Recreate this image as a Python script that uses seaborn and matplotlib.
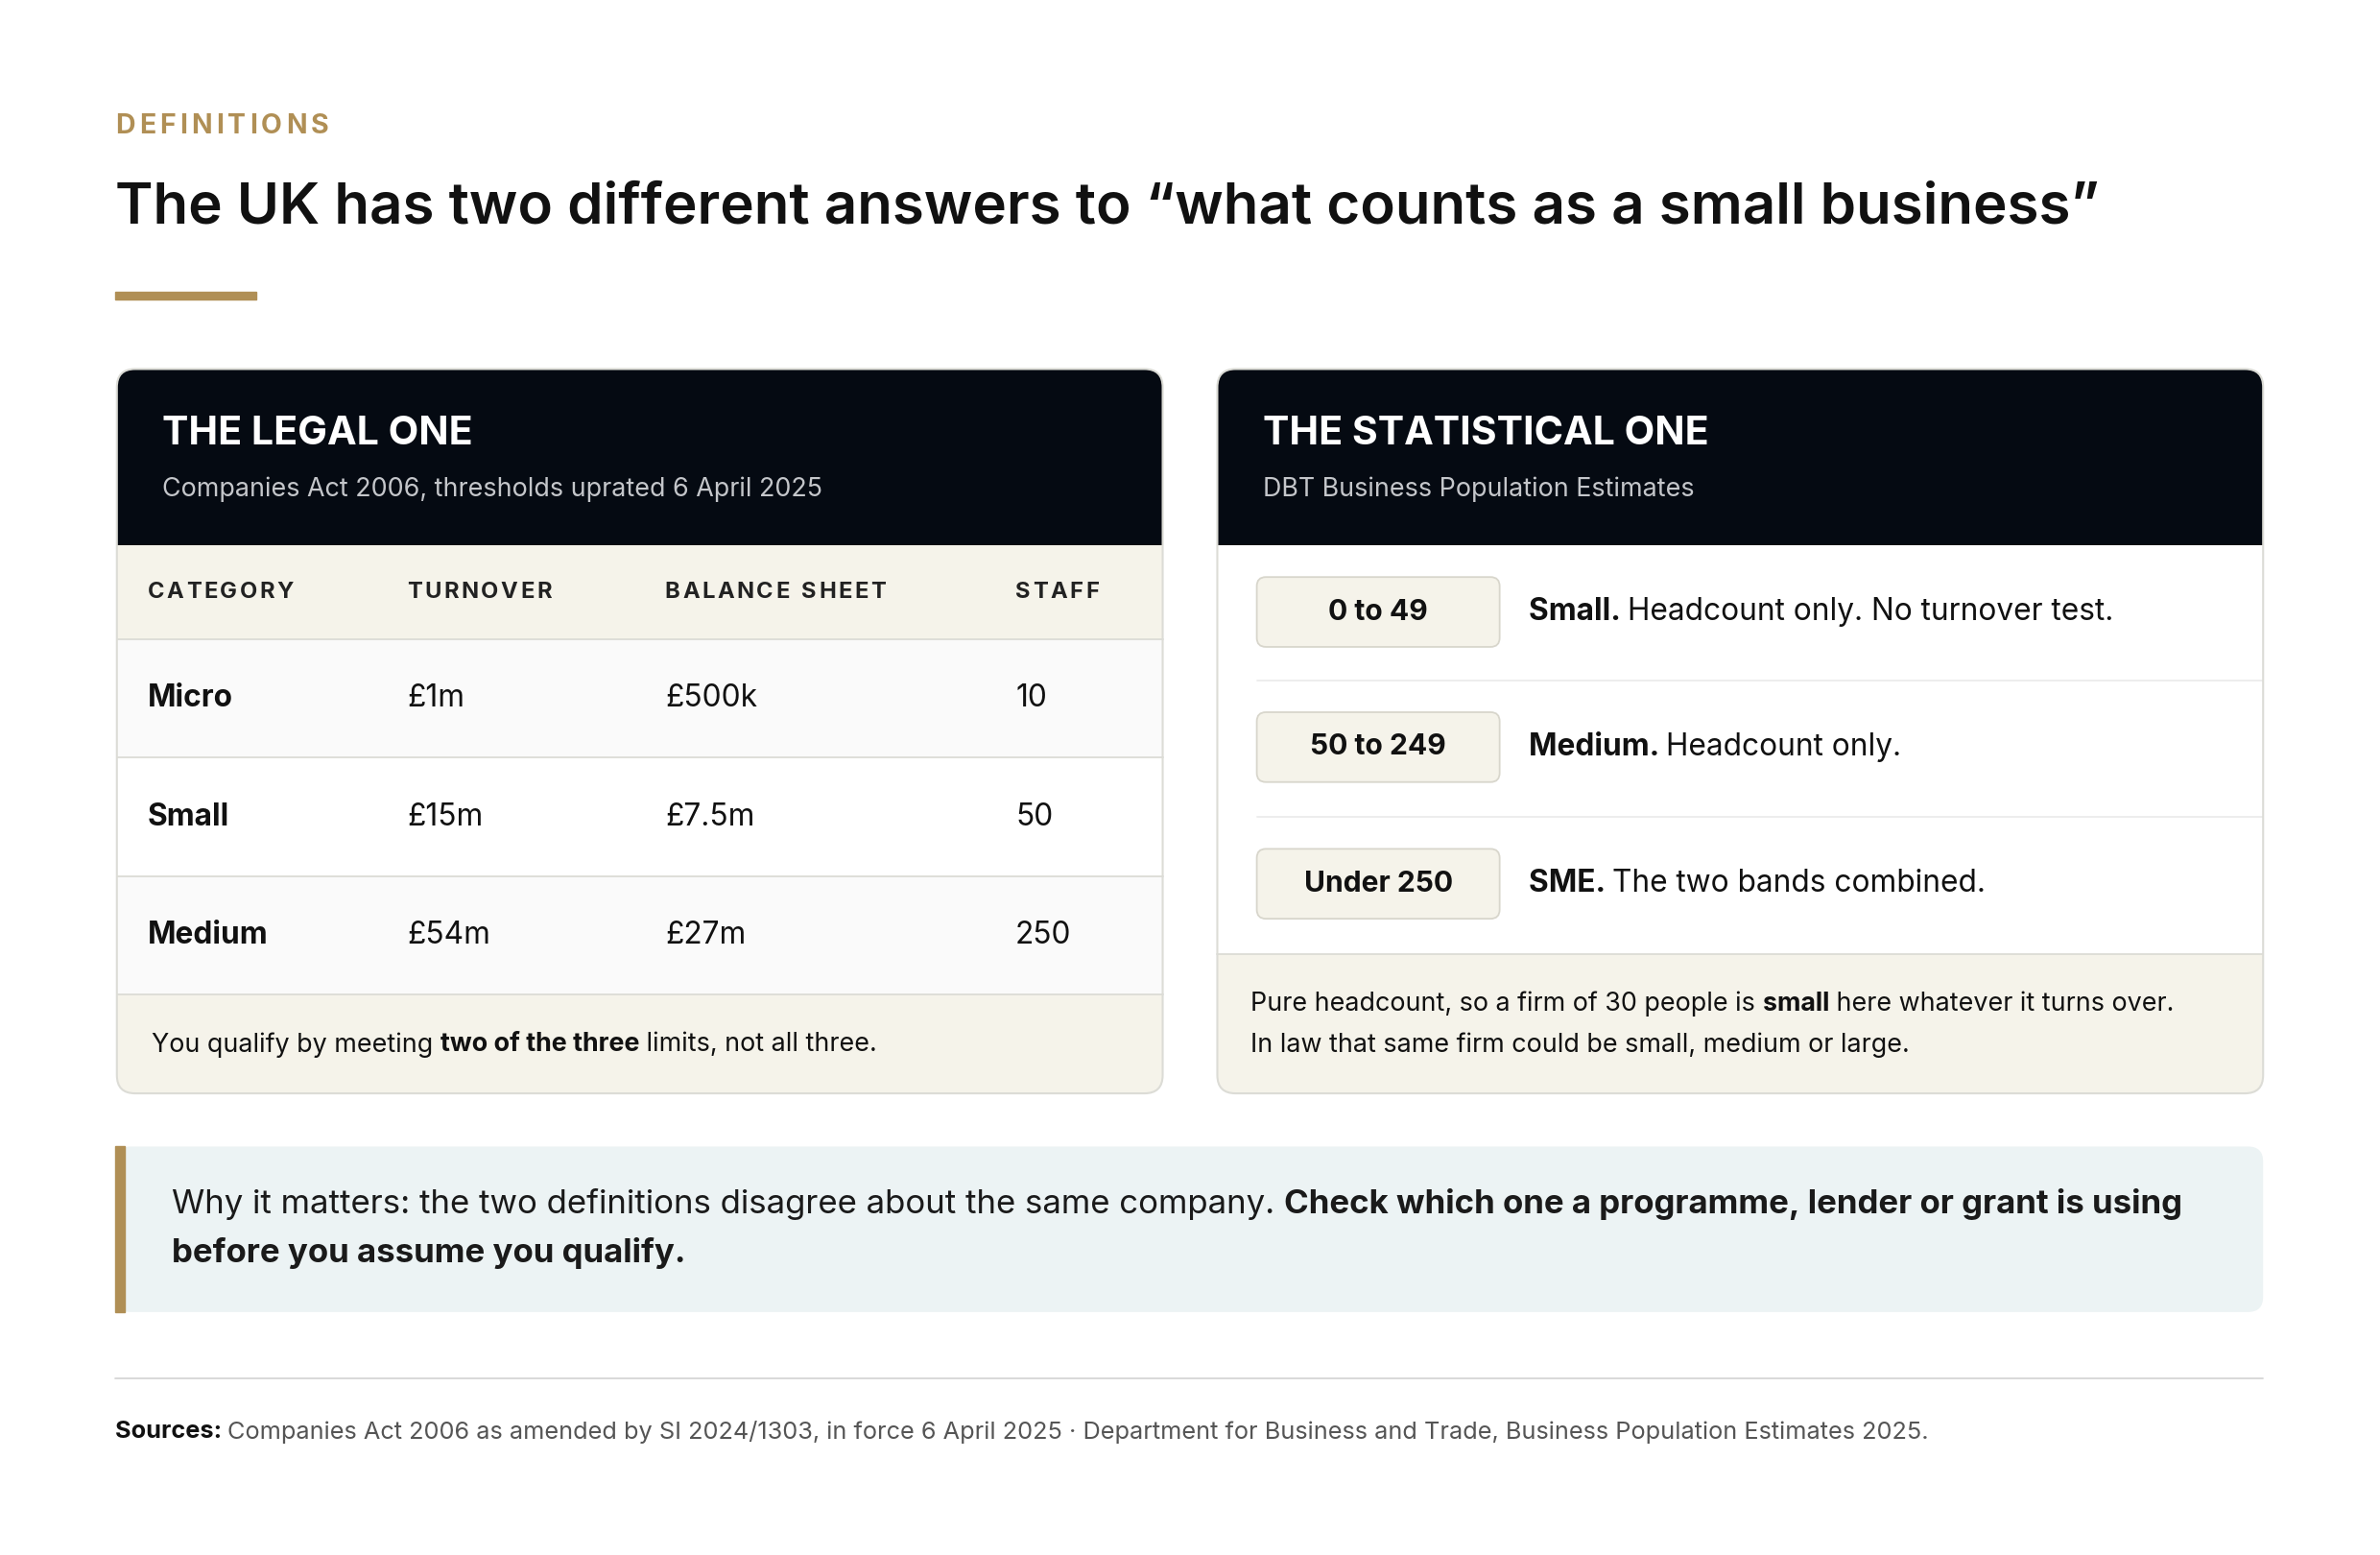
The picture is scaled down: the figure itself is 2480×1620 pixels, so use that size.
import matplotlib
matplotlib.use("Agg")
import matplotlib.pyplot as plt
import seaborn as sns
from matplotlib.patches import FancyBboxPatch, Rectangle

sns.set_theme(style="white")
plt.rcParams['font.family'] = ['Inter', 'DejaVu Sans']

categories = ["Micro", "Small", "Medium"]
turnover = ["£1m", "£15m", "£54m"]
balance = ["£500k", "£7.5m", "£27m"]
staff = ["10", "50", "250"]
columns = ["CATEGORY", "TURNOVER", "BALANCE SHEET", "STAFF"]
bands = ["0 to 49", "50 to 249", "Under 250"]
band_names = ["Small.", "Medium.", "SME."]
band_desc = ["Headcount only. No turnover test.", "Headcount only.", "The two bands combined."]

W, H = 1568, 1024
S = W / 2480
fig = plt.figure(figsize=(24.8, 16.2), dpi=100)
ax = fig.add_axes([0, 0, 1, 1])
ax.set_xlim(0, W); ax.set_ylim(H, 0); ax.axis("off")
fig.patch.set_facecolor("white")
fig.canvas.draw()
R = fig.canvas.get_renderer()

GOLD = "#b08f55"; DARK = "#111111"; CREAM = "#f5f3ea"; GREY = "#555555"; LINE = "#dcdcd6"

def pt(px):
    return px / S * 0.72

def rich(x, y, segs, size, color=DARK):
    for txt, bold in segs:
        t = ax.text(x, y, txt, fontsize=pt(size), color=color,
                    fontweight="bold" if bold else "normal", va="center", ha="left")
        x += t.get_window_extent(R).width * S
    return x

def tracked(x, y, txt, size, color, track, bold=True):
    for ch in txt:
        t = ax.text(x, y, ch, fontsize=pt(size), color=color,
                    fontweight="bold" if bold else "normal", va="center", ha="left")
        w = t.get_window_extent(R).width * S if ch != " " else size * 0.3
        x += w + track

tracked(76, 83, "DEFINITIONS", 18, GOLD, 2.6)
ax.text(76, 137, "The UK has two different answers to \u201cwhat counts as a small business\u201d",
        fontsize=pt(38), fontweight="semibold", color=DARK, va="center")
ax.add_patch(Rectangle((76, 192), 93, 5, color=GOLD))

def card(x0, x1, y0, y1):
    p = FancyBboxPatch((x0, y0), x1 - x0, y1 - y0, boxstyle="round,pad=0,rounding_size=12",
                       facecolor="white", edgecolor="none")
    ax.add_patch(p)
    return p

def clipped_rect(clip, x, y, w, h, color):
    r = Rectangle((x, y), w, h, facecolor=color, edgecolor="none")
    ax.add_patch(r); r.set_clip_path(clip)

def outline(x0, x1, y0, y1):
    ax.add_patch(FancyBboxPatch((x0, y0), x1 - x0, y1 - y0, boxstyle="round,pad=0,rounding_size=12",
                                facecolor="none", edgecolor=LINE, lw=1.5, zorder=5))

# Left card
L0, L1, T, B = 77, 766, 243, 720
cp = card(L0, L1, T, B)
clipped_rect(cp, L0, T, L1 - L0, 116, "#050a12")
clipped_rect(cp, L0, 359, L1 - L0, 62, CREAM)
rowy = [421, 499, 577, 655]
for i in range(3):
    clipped_rect(cp, L0, rowy[i], L1 - L0, rowy[i+1] - rowy[i], "#fafafa" if i != 1 else "white")
clipped_rect(cp, L0, 655, L1 - L0, B - 655, CREAM)
for yy in [421, 499, 577, 655]:
    ax.plot([L0, L1], [yy, yy], color=LINE, lw=1.3)
ax.text(107, 286, "THE LEGAL ONE", fontsize=pt(26), fontweight="bold", color="white", va="center")
ax.text(107, 322, "Companies Act 2006, thresholds uprated 6 April 2025", fontsize=pt(17), color="#c4c6ca", va="center")
colx = [97, 268, 438, 669]
for cx, c in zip(colx, columns):
    tracked(cx, 390, c, 15, "#222222", 1.6)
for i in range(3):
    cy = (rowy[i] + rowy[i+1]) / 2
    ax.text(colx[0], cy, categories[i], fontsize=pt(20), fontweight="bold", color=DARK, va="center")
    for cx, v in zip(colx[1:], [turnover[i], balance[i], staff[i]]):
        ax.text(cx, cy, v, fontsize=pt(20), color=DARK, va="center")
rich(100, 688, [("You qualify by meeting ", False), ("two of the three", True), (" limits, not all three.", False)], 17)
outline(L0, L1, T, B)

# Right card
R0, R1 = 802, 1491
cp2 = card(R0, R1, T, B)
clipped_rect(cp2, R0, T, R1 - R0, 116, "#050a12")
clipped_rect(cp2, R0, 628, R1 - R0, B - 628, CREAM)
for yy in [448, 538]:
    ax.plot([828, R1], [yy, yy], color="#ececec", lw=1.3)
ax.plot([R0, R1], [628, 628], color=LINE, lw=1.3)
ax.text(832, 286, "THE STATISTICAL ONE", fontsize=pt(26), fontweight="bold", color="white", va="center")
ax.text(832, 322, "DBT Business Population Estimates", fontsize=pt(17), color="#c4c6ca", va="center")
for cy, b, n, d in zip([403, 492, 582], bands, band_names, band_desc):
    ax.add_patch(FancyBboxPatch((828, cy - 23), 160, 46, boxstyle="round,pad=0,rounding_size=6",
                                facecolor=CREAM, edgecolor="#d8d6cc", lw=1.3))
    ax.text(908, cy, b, fontsize=pt(19), fontweight="bold", color=DARK, va="center", ha="center")
    rich(1007, cy, [(n + " ", True), (d, False)], 20)
rich(824, 661, [("Pure headcount, so a firm of 30 people is ", False), ("small", True),
                (" here whatever it turns over.", False)], 17)
rich(824, 688, [("In law that same firm could be small, medium or large.", False)], 17)
outline(R0, R1, T, B)

# Callout
ax.add_patch(FancyBboxPatch((76, 755), 1415, 109, boxstyle="round,pad=0,rounding_size=10",
                            facecolor="#ecf3f4", edgecolor="none"))
ax.add_patch(Rectangle((76, 755), 6, 109, color=GOLD))
rich(113, 793, [("Why it matters: the two definitions disagree about the same company. ", False),
                ("Check which one a programme, lender or grant is using", True)], 22, "#1a1a1a")
rich(113, 825, [("before you assume you qualify.", True)], 22, "#1a1a1a")

ax.plot([76, 1491], [908, 908], color="#d6d6d6", lw=1.3)
rich(76, 943, [("Sources: ", True), ("Companies Act 2006 as amended by SI 2024/1303, in force 6 April 2025 \u00b7 Department for Business and Trade, Business Population Estimates 2025.", False)], 16, GREY)
ax.texts[-2].set_color(DARK)

fig.savefig("out.png", dpi=100, facecolor="white")
